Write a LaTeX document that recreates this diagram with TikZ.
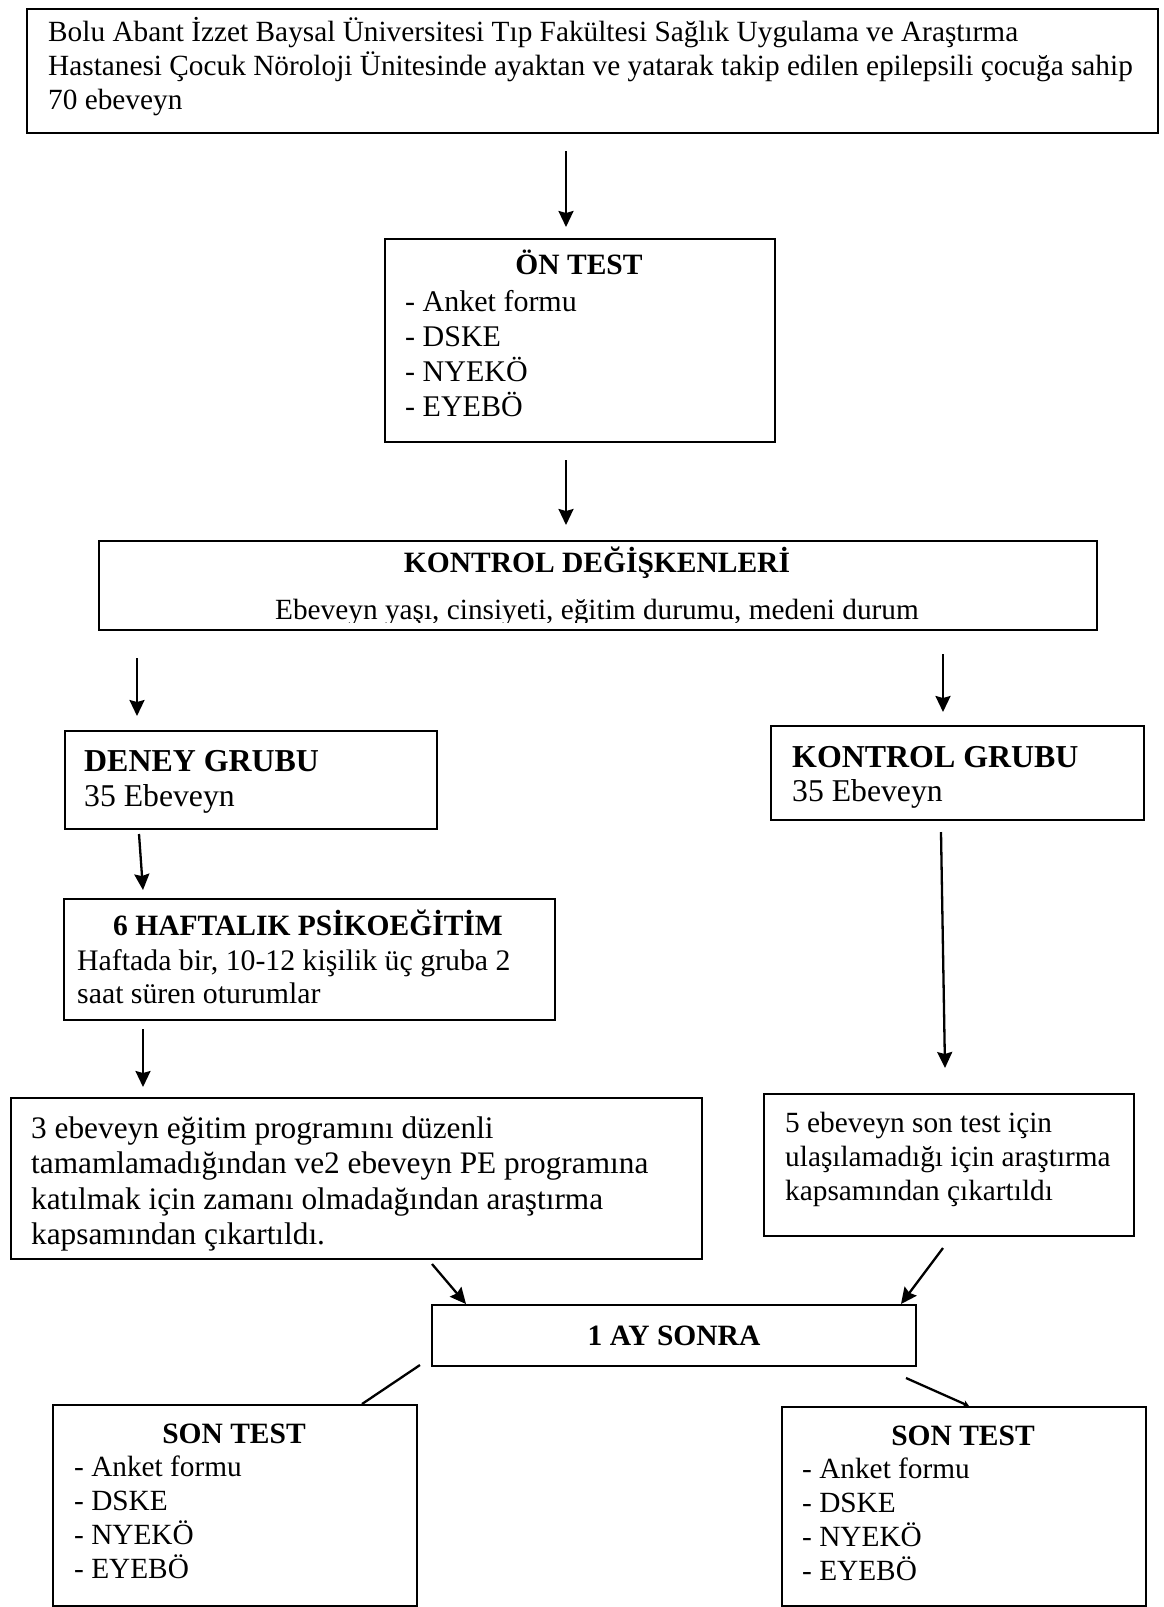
\documentclass[tikz,border=0pt]{standalone}
\usepackage{fontspec}
\setmainfont{Liberation Serif}
\usetikzlibrary{calc,arrows.meta}
\newcommand{\fbody}{\fontsize{29.3}{34}\selectfont}
\newcommand{\fbold}{\fontsize{29.5}{34}\selectfont\bfseries}
\newcommand{\fbig}{\fontsize{31.3}{35.5}\selectfont}
\newcommand{\fmid}{\fontsize{31.7}{36}\selectfont}
\newcommand{\fhead}{\fontsize{31.9}{38}\selectfont\bfseries}
\tikzset{
  box/.style={draw=black, line width=2pt, rectangle, inner sep=0pt, anchor=north west},
  arr/.style={line width=2.3pt, -{Stealth[length=16pt,width=15pt,inset=2pt]}},
  plain/.style={line width=2.3pt},
  tinyarr/.style={line width=2.3pt, -{Stealth[length=6pt,width=7pt]}},
  txt/.style={inner sep=0pt, anchor=base west, align=left, font=\fbody},
  ctxt/.style={inner sep=0pt, anchor=base, align=center, font=\fbody},
}
\begin{document}
\begin{tikzpicture}[x=1pt,y=-1pt]
\useasboundingbox (0,0) rectangle (1163,1607);
\fill[white] (0,0) rectangle (1163,1607);

% boxes
\node[box, minimum width=1131, minimum height=124] (top) at (26,8) {};
\node[box, minimum width=390, minimum height=203] (ontest) at (384,238) {};
\node[box, minimum width=998, minimum height=89] (kontrol) at (98,540) {};
\node[box, minimum width=372, minimum height=98] (deney) at (64,730) {};
\node[box, minimum width=373, minimum height=94] (kgrubu) at (770,725) {};
\node[box, minimum width=491, minimum height=121] (pe) at (63,898) {};
\node[box, minimum width=691, minimum height=161] (lrem) at (10,1097) {};
\node[box, minimum width=370, minimum height=142] (rrem) at (763,1093) {};
\node[box, minimum width=484, minimum height=61] (ay) at (431,1304) {};
\node[box, minimum width=364, minimum height=201] (lson) at (52,1404) {};
\node[box, minimum width=364, minimum height=199] (rson) at (781,1406) {};

% texts (multi-line nodes: base anchor = baseline of last line)
\node[txt] (ttop) at (48,109) {Bolu Abant İzzet Baysal Üniversitesi Tıp Fakültesi Sağlık Uygulama ve Araştırma\\Hastanesi Çocuk Nöroloji Ünitesinde ayaktan ve yatarak takip edilen epilepsili çocuğa sahip\\70 ebeveyn};

\node[ctxt, font=\fbold] (tonh) at (579,274) {ÖN TEST};
\node[txt, font=\fontsize{30}{35}\selectfont] (ton) at (405,416) {- Anket formu\\- DSKE\\- NYEKÖ\\- EYEBÖ};

\node[ctxt, font=\fbold] (tkh) at (597,572) {KONTROL DEĞİŞKENLERİ};
\begin{scope}
\clip (98,540) rectangle (1096,622);
\node[ctxt] (tk) at (597,619) {Ebeveyn yaşı, cinsiyeti, eğitim durumu, medeni durum};
\end{scope}

\node[txt, font=\fhead] (tdh) at (84,771) {DENEY GRUBU};
\node[txt, font=\fmid] (td) at (84,806) {35 Ebeveyn};

\node[txt, font=\fhead] (tkgh) at (792,767) {KONTROL GRUBU};
\node[txt, font=\fmid] (tkg) at (792,801) {35 Ebeveyn};

\node[ctxt, font=\fbold] (tpeh) at (308,935) {6 HAFTALIK PSİKOEĞİTİM};
\node[txt, font=\fontsize{29.8}{33}\selectfont] (tpe) at (77,1003) {Haftada bir, 10-12 kişilik üç gruba 2\\saat süren oturumlar};

\node[txt, font=\fbig] (tlrem) at (31,1244.5) {3 ebeveyn eğitim programını düzenli\\tamamlamadığından ve2 ebeveyn PE programına\\katılmak için zamanı olmadağından araştırma\\kapsamından çıkartıldı.};

\node[txt] (trrem) at (785,1200) {5 ebeveyn son test için\\ulaşılamadığı için araştırma\\kapsamından çıkartıldı};

\node[ctxt, font=\fbold] (tay) at (674,1345) {1 AY SONRA};

\node[ctxt, font=\fbold] (tlsh) at (234,1443) {SON TEST};
\node[txt] (tls) at (74,1578) {- Anket formu\\- DSKE\\- NYEKÖ\\- EYEBÖ};

\node[ctxt, font=\fbold] (trsh) at (963,1445) {SON TEST};
\node[txt] (trs) at (802,1580) {- Anket formu\\- DSKE\\- NYEKÖ\\- EYEBÖ};

% connectors
\draw[arr] ($(top.south)+(-26.5,17)$) -- ($(ontest.north)+(-14,-11)$);
\draw[arr] ($(ontest.south)+(-14,17)$) -- ($(kontrol.north)+(-32,-15)$);
\draw[arr] ($(kontrol.south)+(-461,27)$) -- ($(deney.north)+(-114,-14)$);
\draw[arr] ($(kontrol.south)+(345,23)$) -- ($(kgrubu.north)+(-14.5,-13)$);
\draw[arr] ($(deney.south)+(-112,4)$) -- ($(pe.north)+(-166.5,-8)$);
\draw[arr] ($(pe.south)+(-166.5,8)$) -- ($(lrem.north)+(-213.5,-10)$);
\draw[arr] ($(kgrubu.south)+(-16.5,11)$) -- ($(rrem.north)+(-4,-25)$);
\draw[arr] ($(lrem.south)+(75.5,4)$) -- ($(ay.north west)+(35,0)$);
\draw[arr] ($(rrem.south)+(-6,11)$) -- ($(ay.north east)+(-16,0)$);
\draw[plain] ($(ay.south west)+(-11,-2)$) -- ($(lson.north)+(127,0)$);
\draw[tinyarr] ($(ay.south east)+(-11,11)$) -- ($(rson.north)+(5,0)$);
\end{tikzpicture}
\end{document}
